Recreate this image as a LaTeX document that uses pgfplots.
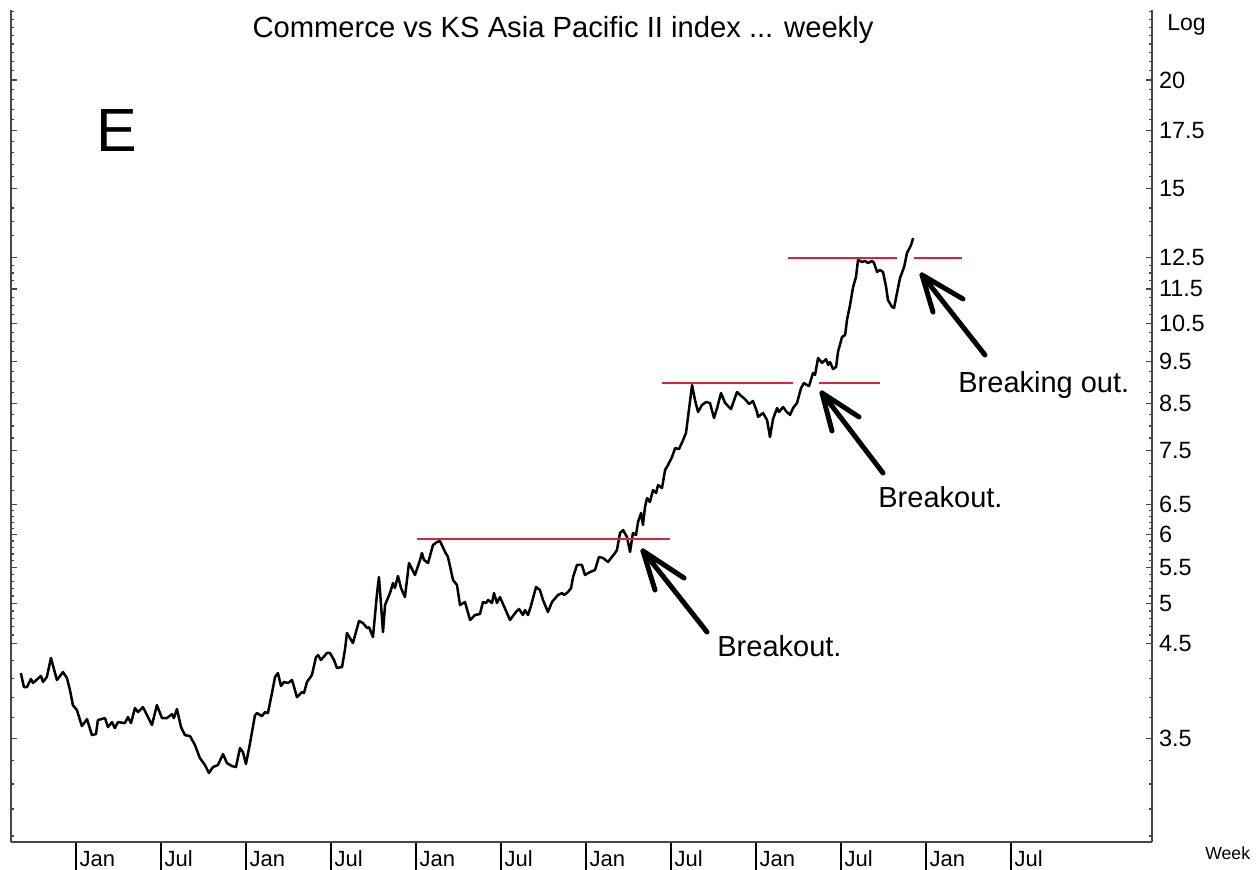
\documentclass[border=0pt]{standalone}
\usepackage{pgfplots}
\pgfplotsset{compat=1.18}
\usepackage{fontspec}
\setmainfont{Liberation Sans}
\definecolor{lvl}{RGB}{226,32,62}
\definecolor{axc}{RGB}{70,70,70}
\begin{document}
\begin{tikzpicture}
\useasboundingbox (0,0) rectangle (630pt,435pt);
\begin{axis}[
  at={(5.5pt,14pt)}, anchor=south west,
  scale only axis, width=570.5pt, height=416pt,
  xmin=-0.382, xmax=6.329, ymin=2.658, ymax=24.08,
  ymode=log,
  axis x line*=bottom, axis y line*=box,
  axis line style={axc, line width=0.8pt},
  xtick=\empty,
  ytick={3.5,4.5,5,5.5,6,6.5,7.5,8.5,9.5,10.5,11.5,12.5,15,17.5,20},
  yticklabels={3.5,4.5,5,5.5,6,6.5,7.5,8.5,9.5,10.5,11.5,12.5,15,17.5,20},
  minor ytick={2.7,2.9,3.1,3.3,3.7,3.9,4.1,4.3,4.6,4.7,4.8,4.9,5.1,5.2,5.3,5.4,5.6,5.7,5.8,5.9,6.1,6.2,6.3,6.4,6.75,7,7.25,7.75,8,8.25,8.75,9,9.25,9.75,10,10.25,10.75,11,11.25,11.75,12,12.25,13.25,13.75,14.25,15.5,16,16.5,17,18,18.5,19,19.5,20.5,21,21.5,22,22.5,23,23.5,24},
  yticklabel pos=right,
  tick align=inside,
  major tick length=3pt, minor tick length=1.6pt,
  tick style={axc, line width=0.6pt},
  yticklabel style={font=\fontsize{11.75}{12}\selectfont, text=black},
  /pgf/number format/assume math mode=true,
  clip=false,
]
\addplot[black, line width=1.25pt, line join=round] coordinates {
(-0.324,4.158) (-0.306,4.007) (-0.288,4.007) (-0.265,4.093) (-0.253,4.050) (-0.206,4.126) (-0.194,4.061) (-0.171,4.115) (-0.147,4.327) (-0.112,4.082)
(-0.076,4.169) (-0.053,4.104) (-0.035,3.975) (-0.018,3.820) (0.006,3.770) (0.035,3.613) (0.065,3.681) (0.094,3.528) (0.118,3.538) (0.129,3.671)
(0.171,3.691) (0.188,3.604) (0.212,3.652) (0.229,3.594) (0.247,3.652) (0.288,3.642) (0.306,3.701) (0.324,3.642) (0.347,3.790) (0.365,3.750)
(0.394,3.800) (0.447,3.623) (0.476,3.820) (0.506,3.691) (0.535,3.691) (0.565,3.730) (0.576,3.691) (0.594,3.780) (0.618,3.604) (0.641,3.528)
(0.671,3.519) (0.700,3.436) (0.729,3.320) (0.759,3.259) (0.782,3.191) (0.806,3.242) (0.835,3.259) (0.865,3.355) (0.888,3.276) (0.918,3.250)
(0.941,3.242) (0.965,3.409) (0.982,3.373) (1.000,3.268) (1.024,3.454) (1.053,3.720) (1.065,3.740) (1.094,3.710) (1.112,3.750) (1.129,3.740)
(1.153,3.944) (1.171,4.115) (1.188,4.158) (1.206,4.018) (1.224,4.061) (1.247,4.050) (1.271,4.082) (1.300,3.902) (1.329,3.954) (1.341,3.944)
(1.359,4.061) (1.388,4.137) (1.412,4.338) (1.424,4.361) (1.441,4.304) (1.476,4.385) (1.494,4.385) (1.518,4.304) (1.535,4.214) (1.565,4.225)
(1.582,4.419) (1.594,4.623) (1.629,4.502) (1.665,4.773) (1.688,4.747) (1.712,4.685) (1.724,4.695) (1.747,4.574) (1.771,5.139) (1.782,5.362)
(1.788,5.181) (1.806,4.636) (1.818,4.979) (1.847,5.139) (1.865,5.278) (1.876,5.208) (1.894,5.377) (1.912,5.208) (1.935,5.085) (1.959,5.565)
(1.994,5.391) (2.024,5.610) (2.035,5.715) (2.047,5.610) (2.071,5.565) (2.100,5.837) (2.124,5.884) (2.141,5.900) (2.171,5.731) (2.188,5.655)
(2.218,5.320) (2.241,5.250) (2.259,4.979) (2.288,5.019) (2.318,4.785) (2.347,4.849) (2.376,4.862) (2.394,5.019) (2.412,5.006) (2.424,5.046)
(2.447,5.006) (2.459,5.139) (2.476,5.006) (2.494,5.085) (2.535,4.875) (2.553,4.785) (2.588,4.888) (2.606,4.927) (2.629,4.849) (2.641,4.913)
(2.659,4.849) (2.676,4.966) (2.706,5.223) (2.729,5.181) (2.747,5.046) (2.776,4.888) (2.800,5.019) (2.835,5.113) (2.859,5.139) (2.871,5.113)
(2.894,5.154) (2.912,5.208) (2.924,5.362) (2.947,5.536) (2.976,5.536) (2.994,5.391) (3.024,5.434) (3.053,5.463) (3.076,5.655) (3.100,5.640)
(3.129,5.580) (3.171,5.715) (3.182,5.760) (3.200,6.026) (3.218,6.073) (3.241,5.962) (3.259,5.731) (3.276,6.026) (3.294,5.994) (3.306,6.203)
(3.324,6.354) (3.335,6.155) (3.347,6.455) (3.359,6.611) (3.376,6.541) (3.394,6.752) (3.412,6.699) (3.424,6.842) (3.447,6.788) (3.465,7.120)
(3.482,7.214) (3.506,7.369) (3.524,7.546) (3.547,7.527) (3.571,7.708) (3.588,7.853) (3.600,8.193) (3.624,8.917) (3.641,8.570) (3.659,8.302)
(3.682,8.458) (3.706,8.525) (3.729,8.503) (3.753,8.171) (3.771,8.390) (3.794,8.730) (3.818,8.503) (3.835,8.435) (3.853,8.368) (3.888,8.754)
(3.906,8.684) (3.935,8.593) (3.959,8.480) (3.982,8.548) (4.006,8.302) (4.012,8.193) (4.041,8.280) (4.065,8.128) (4.082,7.770) (4.100,8.150)
(4.124,8.390) (4.135,8.302) (4.159,8.413) (4.176,8.324) (4.200,8.237) (4.218,8.390) (4.241,8.503) (4.265,8.847) (4.282,8.965) (4.300,8.917)
(4.312,8.894) (4.335,9.206) (4.347,9.157) (4.365,9.580) (4.388,9.453) (4.412,9.554) (4.424,9.403) (4.435,9.478) (4.453,9.303) (4.471,9.353)
(4.482,9.733) (4.506,10.127) (4.524,10.181) (4.535,10.593) (4.553,11.023) (4.571,11.561) (4.588,11.871) (4.600,12.419) (4.624,12.353) (4.641,12.385)
(4.659,12.320) (4.682,12.385) (4.694,12.320) (4.712,12.030) (4.729,12.094) (4.747,12.030) (4.765,11.561) (4.776,11.169) (4.800,10.964) (4.812,10.935)
(4.829,11.378) (4.847,11.840) (4.871,12.190) (4.888,12.651) (4.912,12.922) (4.924,13.163)
};
\addplot[lvl, line width=1pt] coordinates {(2.006,5.93) (3.494,5.93)};
\addplot[lvl, line width=1pt] coordinates {(3.447,8.965) (4.218,8.965)};
\addplot[lvl, line width=1pt] coordinates {(4.371,8.965) (4.729,8.965)};
\addplot[lvl, line width=1pt] coordinates {(4.188,12.48) (4.829,12.48)};
\addplot[lvl, line width=1pt] coordinates {(4.929,12.48) (5.212,12.48)};
\end{axis}
\begin{axis}[
  at={(5.5pt,14pt)}, anchor=south west,
  scale only axis, width=570.5pt, height=416pt,
  xmin=-0.382, xmax=6.329, ymin=0, ymax=1,
  axis x line*=bottom, axis y line=none,
  axis line style={axc, line width=0.8pt},
  ytick=\empty,
  xtick={0,0.5,1,1.5,2,2.5,3,3.5,4,4.5,5,5.5},
  xticklabels={Jan,Jul,Jan,Jul,Jan,Jul,Jan,Jul,Jan,Jul,Jan,Jul},
  tick align=outside,
  major tick length=14pt,
  tick style={black, line width=0.6pt},
  xticklabel style={font=\fontsize{11}{12}\selectfont, anchor=base west, inner sep=0pt, xshift=1.6pt, yshift=1.8pt},
]
\end{axis}
\node[anchor=base, font=\fontsize{14.6}{16}\selectfont] at (281.5pt,416pt) {Commerce vs KS Asia Pacific II index ... weekly};
\node[anchor=base, font=\fontsize{30.5}{32}\selectfont] at (58.5pt,359pt) {E};
\node[anchor=base west, inner sep=0pt, font=\fontsize{11.5}{12}\selectfont] at (583.5pt,419.5pt) {Log};
\node[anchor=base west, inner sep=0pt, font=\fontsize{8.8}{10}\selectfont] at (602.5pt,5pt) {Week};
\node[anchor=base west, inner sep=0pt, font=\fontsize{14.5}{16}\selectfont] at (358.5pt,106.5pt) {Breakout.};
\node[anchor=base west, inner sep=0pt, font=\fontsize{14.5}{16}\selectfont] at (439pt,181pt) {Breakout.};
\node[anchor=base west, inner sep=0pt, font=\fontsize{14.5}{16}\selectfont] at (479pt,238.5pt) {Breaking out.};
\begin{scope}[line width=2.5pt, line cap=round, line join=round]
\draw (342pt,146pt) -- (321.5pt,159.5pt) -- (353.5pt,119pt);
\draw (321.5pt,159.5pt) -- (327.5pt,140pt);
\draw (429.5pt,226.5pt) -- (411pt,238.5pt) -- (441.5pt,198.5pt);
\draw (411pt,238.5pt) -- (416pt,219.5pt);
\draw (481.5pt,285.5pt) -- (461pt,297.5pt) -- (492.5pt,257.5pt);
\draw (461pt,297.5pt) -- (466.5pt,279pt);
\end{scope}
\end{tikzpicture}
\end{document}
